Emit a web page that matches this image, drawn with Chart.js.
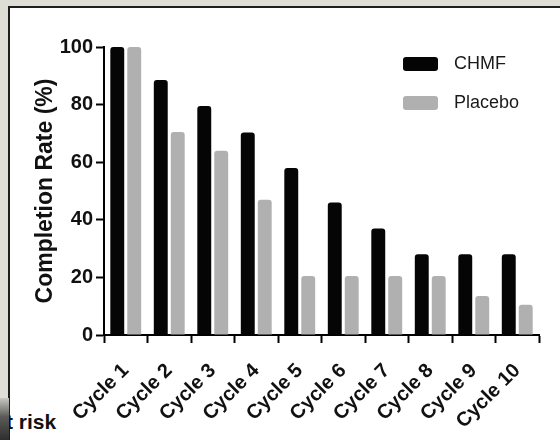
<!DOCTYPE html>
<html>
<head>
<meta charset="utf-8">
<script src="https://cdn.jsdelivr.net/npm/chart.js@4/dist/chart.umd.min.js"></script>
<style>
    html, body { margin: 0; padding: 0; }
    body { width: 560px; height: 440px; position: relative; overflow: hidden; background: #deded7; font-family: "Liberation Sans", Arial, sans-serif; }
    #panel { position: absolute; left: 8px; top: 6px; width: 552px; height: 434px; background: #fff; border-left: 2px solid #1e1e1e; border-top: 2px solid #1e1e1e; box-sizing: border-box; }
    #shade { position: absolute; left: 0; top: 398px; width: 9px; height: 42px; background: linear-gradient(#c8c8c2, #5a5a58 45%, #2e2e2e); }
    #risk { position: absolute; left: 6px; top: 410px; font-size: 21px; font-weight: bold; color: #111; }
    #chart-wrap { position: absolute; left: 0; top: 0; width: 560px; height: 440px; }
</style>
</head>
<body>
<div id="panel"></div>
<div id="risk">t risk</div>
<div id="shade"></div>
<div id="chart-wrap"><canvas id="chart" width="560" height="440"></canvas></div>

<script>
// dados do grafico
const cycles = ['Cycle 1', 'Cycle 2', 'Cycle 3', 'Cycle 4', 'Cycle 5', 'Cycle 6', 'Cycle 7', 'Cycle 8', 'Cycle 9', 'Cycle 10'];
const chmfRates = [100, 88.5, 79.5, 70.3, 58, 46, 37, 28, 28, 28];
const placeboRates = [100, 70.5, 64, 47, 20.5, 20.5, 20.5, 20.5, 13.5, 10.5];
const yTicks = [0, 20, 40, 60, 80, 100];

const FONT = '"Liberation Sans", Arial, sans-serif';

// legenda desenhada a mao (caixas arredondadas a direita)
const boxLegend = {
    id: 'boxLegend',
    afterDraw(chart) {
        const ctx = chart.ctx;
        ctx.save();
        chart.data.datasets.forEach((ds, i) => {
            const y = 57 + i * 39;
            ctx.fillStyle = ds.backgroundColor;
            ctx.beginPath();
            ctx.roundRect(403, y, 35, 14, 3);
            ctx.fill();
            ctx.fillStyle = '#1a1a1a';
            ctx.font = '18px ' + FONT;
            ctx.textBaseline = 'middle';
            ctx.fillText(ds.label, 454, y + 7.5);
        });
        ctx.restore();
    }
};

const ctx = document.getElementById('chart').getContext('2d');
new Chart(ctx, {
    type: 'bar',
    data: {
        labels: cycles,
        datasets: [
            {
                label: 'CHMF',
                data: chmfRates,
                backgroundColor: '#050505',
                borderRadius: 3,
                categoryPercentage: 0.78,
                barPercentage: 0.82
            },
            {
                label: 'Placebo',
                data: placeboRates,
                backgroundColor: '#b0b0b0',
                borderRadius: 3,
                categoryPercentage: 0.78,
                barPercentage: 0.82
            }
        ]
    },
    options: {
        responsive: false,
        animation: false,
        layout: { padding: { top: 47, left: 0, right: 21, bottom: 0 } },
        plugins: {
            legend: { display: false },
            tooltip: { enabled: false }
        },
        scales: {
            x: {
                afterFit: (scale) => { scale.height = 105; },
                grid: { drawOnChartArea: false, drawTicks: true, tickLength: 8, tickWidth: 2, tickColor: '#000' },
                border: { display: true, color: '#000', width: 2 },
                ticks: {
                    minRotation: 45,
                    maxRotation: 45,
                    padding: 16,
                    color: '#111',
                    font: { family: FONT, size: 20, weight: 'bold' }
                }
            },
            y: {
                min: 0,
                max: 100,
                afterFit: (scale) => { scale.width = 104; },
                afterBuildTicks: (scale) => { scale.ticks = yTicks.map(v => ({ value: v })); },
                grid: { drawOnChartArea: false, drawTicks: true, tickLength: 8, tickWidth: 2, tickColor: '#000' },
                border: { display: true, color: '#000', width: 2 },
                ticks: {
                    padding: 3,
                    color: '#111',
                    font: { family: FONT, size: 20, weight: 'bold' }
                },
                title: {
                    display: true,
                    text: 'Completion Rate (%)',
                    color: '#111',
                    padding: { top: 32, bottom: 0 },
                    font: { family: FONT, size: 23, weight: 'bold' }
                }
            }
        }
    },
    plugins: [boxLegend]
});
</script>
</body>
</html>
